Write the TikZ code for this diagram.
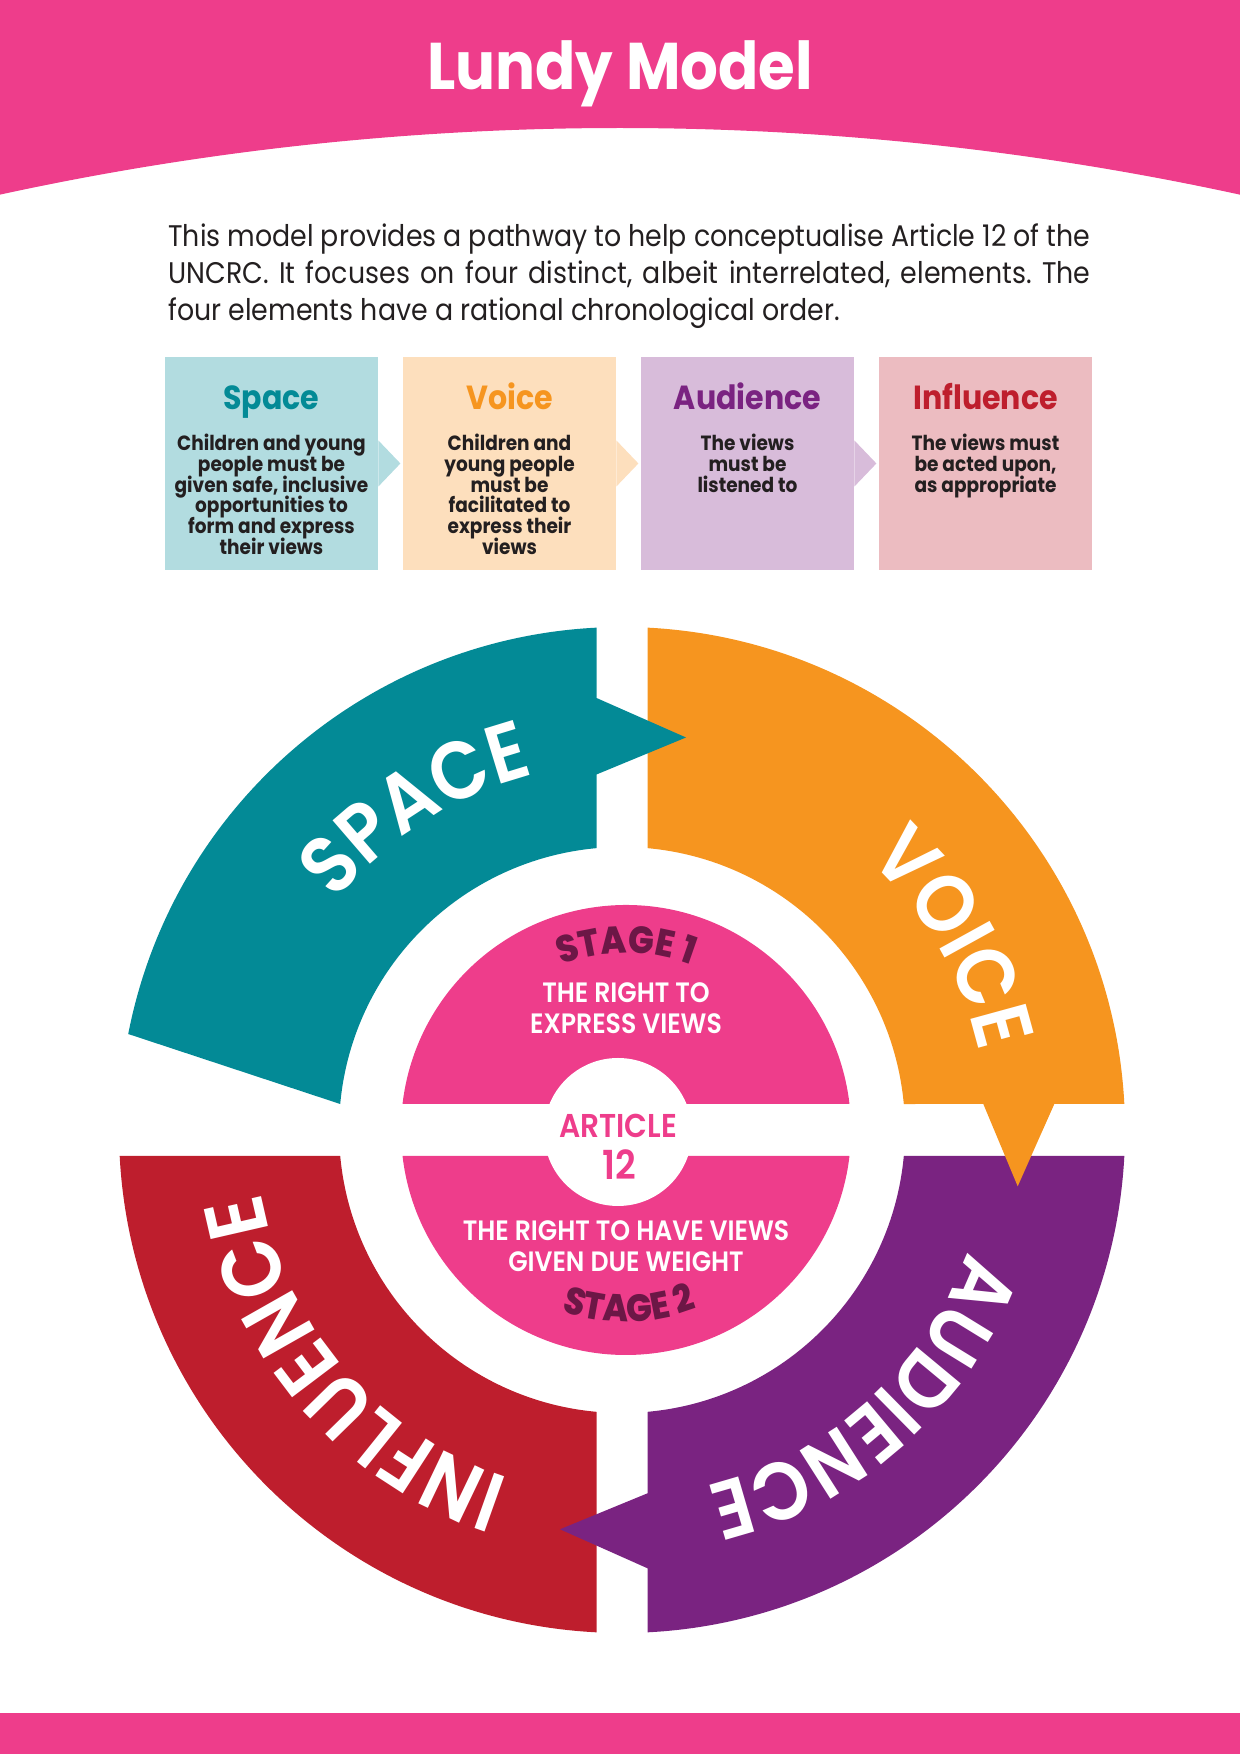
\documentclass[tikz,border=0pt]{standalone}
\usepackage{fontspec}
\setmainfont{Poppins}[FakeStretch=0.9]
\newfontfamily\semifont{Poppins SemiBold}[FakeStretch=0.9]
\newfontfamily\heavyfont{Poppins ExtraBold}[FakeStretch=0.9]
\usetikzlibrary{decorations.text}
\definecolor{lpink}{HTML}{EE3D8B}
\definecolor{lteal}{HTML}{038A96}
\definecolor{lorange}{HTML}{F6951F}
\definecolor{lpurple}{HTML}{7A2381}
\definecolor{lred}{HTML}{BE1E2D}
\definecolor{lplum}{HTML}{6C1746}
\definecolor{ltext}{HTML}{231F20}
\definecolor{bteal}{HTML}{B2DCE0}
\definecolor{bpeach}{HTML}{FDDFBD}
\definecolor{blilac}{HTML}{D8BCDA}
\definecolor{brose}{HTML}{ECBCC1}
\newcommand\setfs[2]{\fontsize{#1}{#2}\selectfont\lineskiplimit=-20pt}
\frenchspacing
\begin{document}
\begin{tikzpicture}[x=0.5pt, y=0.5pt,
        boxtitle/.style={anchor=base, inner sep=0pt, font=\setfs{16.7}{16.7}\bfseries},
        boxtext/.style={anchor=north, inner sep=0pt, align=center, text=ltext, font=\setfs{10.3}{10.35}\bfseries},
        midtext/.style={anchor=base, inner sep=0pt, text=white, font=\semifont\setfs{14}{14}}
    ]
    \useasboundingbox (0,0) rectangle (1240,1754);

    \fill[lpink] (0,1754) -- (1240,1754) -- (1240,1559.3) arc[start angle=77.72, end angle=102.28, radius=2916] -- cycle;
    \fill[lpink] (0,0) rectangle (1240,41);
    \node[anchor=base, inner sep=0pt, text=white, font=\setfs{33}{33}\bfseries] (title) at (620,1664) {Lundy Model};

    \begin{scope}[every node/.style={anchor=base west, inner sep=0pt, text=ltext, font=\setfs{14.9}{18.5}}]
        \node (p1) at (168,1507) {\makebox[461pt][s]{This model provides a pathway to help conceptualise Article 12 of the}};
        \node (p2) at (168,1470) {\makebox[461pt][s]{UNCRC. It focuses on four distinct, albeit interrelated, elements. The}};
        \node (p3) at (168,1433) {four elements have a rational chronological order.};
    \end{scope}

    \begin{scope}[every node/.style={minimum width=106.5pt, minimum height=106.5pt, inner sep=0pt}]
        \node[fill=bteal] (b1) at (271.5,1290.5) {};
        \node[fill=bpeach] (b2) at (509.5,1290.5) {};
        \node[fill=blilac] (b3) at (747.5,1290.5) {};
        \node[fill=brose] (b4) at (985.5,1290.5) {};
    \end{scope}
    \fill[bteal] ([yshift=11.5pt]b1.east) -- ++(22,-23) -- ++(-22,-23) -- cycle;
    \fill[bpeach] ([yshift=11.5pt]b2.east) -- ++(22,-23) -- ++(-22,-23) -- cycle;
    \fill[blilac] ([yshift=11.5pt]b3.east) -- ++(22,-23) -- ++(-22,-23) -- cycle;

    \node[boxtitle, text=lteal] (t1) at (271.5,1344) {Space};
    \node[boxtitle, text=lorange] (t2) at (509.5,1344) {Voice};
    \node[boxtitle, text=lpurple] (t3) at (747.5,1344) {Audience};
    \node[boxtitle, text=lred] (t4) at (985.5,1344) {Influence};
    \node[boxtext] (d1) at (271.5,1320) {Children and young\\people must be\\given safe, inclusive\\opportunities to\\form and express\\their views};
    \node[boxtext] (d2) at (509.5,1320) {Children and\\young people\\must be\\facilitated to\\express their\\views};
    \node[boxtext] (d3) at (747.5,1320) {The views\\must be\\listened to};
    \node[boxtext] (d4) at (985.5,1320) {The views must\\be acted upon,\\as appropriate};

    \begin{scope}[shift={(622,624)}]
        \fill[lred] (182.963:503) arc[start angle=182.963, end angle=267.094, radius=503] -- (264.83:283) arc[start angle=264.83, end angle=185.27, radius=283] -- cycle;
        \fill[lpurple] (-2.963:503) arc[start angle=-2.963, end angle=-87.094, radius=503] -- (25.5,-438.3) -- (-62,-399.3) -- (25.5,-363.3) -- (-84.83:283) arc[start angle=-84.83, end angle=-5.27, radius=283] -- cycle;
        \fill[lorange] (87.094:503) arc[start angle=87.094, end angle=2.963, radius=503] -- (432.3,26) -- (395.7,-56.3) -- (361.3,26) -- (5.27:283) arc[start angle=5.27, end angle=84.83, radius=283] -- cycle;
        \fill[lteal] (92.906:503) arc[start angle=92.906, end angle=169, radius=503] -- (174.73:283) arc[start angle=174.73, end angle=95.17, radius=283] -- (-25.5,355.5) -- (64,392.5) -- (-25.5,432) -- cycle;

        \path[decorate, decoration={text along path, text color=white, text align=center, text={|\semifont\setfs{41}{41}|SPACE}}] (172.6:366) arc[start angle=172.6, end angle=72.6, radius=366];
        \path[decorate, decoration={text along path, text color=white, text align=center, text={|\semifont\setfs{41}{41}|VOICE}}] (80:366) arc[start angle=80, end angle=-20, radius=366];
        \path[decorate, decoration={text along path, text color=white, text align=center, text={|\semifont\setfs{41}{41}|AUDIENCE}}] (12:366) arc[start angle=12, end angle=-108, radius=366];
        \path[decorate, decoration={text along path, text color=white, text align=center, text={|\semifont\setfs{42}{42}|INFLUENCE}}] (281:366) arc[start angle=281, end angle=161, radius=366];
    \end{scope}

    \begin{scope}[shift={(626,624)}]
        \fill[lpink] (6.636:225) arc[start angle=6.636, end angle=173.364, radius=225] -- cycle;
        \fill[lpink] (186.636:225) arc[start angle=186.636, end angle=353.364, radius=225] -- cycle;
        \path[decorate, decoration={text along path, text color=lplum, text align=center, text={|\heavyfont\setfs{19}{19}|STAGE 1}}] (135:177) arc[start angle=135, end angle=45, radius=177];
        \path[decorate, decoration={text along path, text color=lplum, text align=center, text={|\heavyfont\setfs{19}{19}|STAGE 2}}] (226:192) arc[start angle=226, end angle=316, radius=192];
    \end{scope}
    \fill[white] (618,622) circle[radius=74];

    \node[midtext] (m1) at (626,751.3) {THE RIGHT TO};
    \node[midtext] (m2) at (626,720.7) {EXPRESS VIEWS};
    \node[anchor=base, inner sep=0pt, text=lpink, font=\semifont\setfs{16.5}{16.5}] (art) at (618,616.7) {ARTICLE};
    \node[anchor=base, inner sep=0pt, text=lpink, font=\semifont\setfs{20}{20}] (num) at (619,574) {12};
    \node[midtext] (m3) at (626,513.3) {THE RIGHT TO HAVE VIEWS};
    \node[midtext] (m4) at (626,482.3) {GIVEN DUE WEIGHT};
\end{tikzpicture}
\end{document}
